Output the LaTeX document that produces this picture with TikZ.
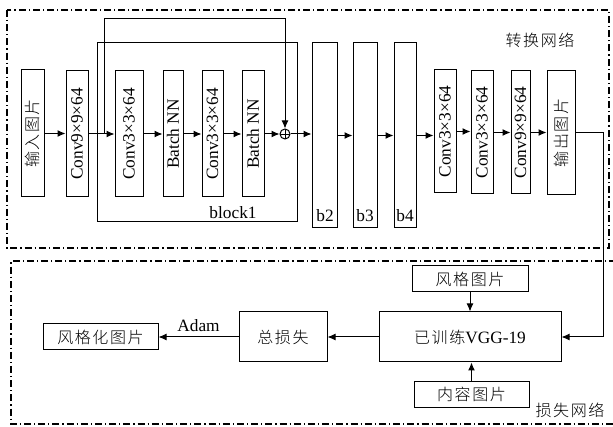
\documentclass[tikz,border=0pt]{standalone}
\usepackage{fontspec}
\setmainfont{Liberation Serif}
\newfontfamily\cjkfont[UprightFont={* Light},LetterSpace=10]{Noto Sans CJK SC}
\usetikzlibrary{arrows.meta}
\newcommand{\zh}[1]{{\cjkfont\fontsize{16}{19}\selectfont #1}}
\begin{document}
\begin{tikzpicture}[x=1pt,y=-1pt,
  box/.style={draw, line width=1pt, inner sep=0pt},
  arr/.style={-{Latex[length=8pt,width=7pt]}, line width=1pt},
  frame/.style={line width=1.1pt, dash pattern=on 7pt off 3pt on 1.2pt off 3pt},
  font=\fontsize{17.3}{20}\selectfont]
\useasboundingbox (0,0) rectangle (613,427);
% frames
\draw[frame] (7,10) rectangle (609,248);
\draw[frame] (616,261) -- (11,261) -- (11,424) -- (616,424);
% transform network
\node[box, minimum width=23, minimum height=127] (in) at (32.5,133.5) {\rotatebox{90}{\zh{输入图片}}};
\node[box, minimum width=22, minimum height=126] (c9) at (77,134) {\rotatebox{90}{Conv9×9×64}};
\node[box, minimum width=200, minimum height=179] (blk) at (197,132.5) {};
\node[box, minimum width=28, minimum height=126] (c3a) at (129,134) {\rotatebox{90}{Conv3×3×64}};
\node[box, minimum width=20, minimum height=126] (bn1) at (173,134) {\rotatebox{90}{Batch NN}};
\node[box, minimum width=21, minimum height=126] (c3b) at (212.5,134) {\rotatebox{90}{Conv3×3×64}};
\node[box, minimum width=22, minimum height=126] (bn2) at (253,134) {\rotatebox{90}{Batch NN}};
\node[draw, circle, line width=1pt, minimum size=10pt, inner sep=0pt,
  path picture={\draw[line width=0.8pt] (path picture bounding box.north) -- (path picture bounding box.south) (path picture bounding box.west) -- (path picture bounding box.east);}] (plus) at (285,134) {};
\node (blabel) at (233,213) {block1};
\node[box, minimum width=25, minimum height=185] (b2) at (324.5,135.5) {};
\node[box, minimum width=24, minimum height=185] (b3) at (365,135.5) {};
\node[box, minimum width=22, minimum height=185] (b4) at (405,135.5) {};
\node (b2l) at (325,216) {b2};
\node (b3l) at (365,216) {b3};
\node (b4l) at (405,216) {b4};
\node[box, minimum width=22, minimum height=123] (c3c) at (445,131.5) {\rotatebox{90}{Conv3×3×64}};
\node[box, minimum width=22, minimum height=123] (c3d) at (482,132.5) {\rotatebox{90}{Conv3×3×64}};
\node[box, minimum width=19, minimum height=123] (c9b) at (520.5,132.5) {\rotatebox{90}{Conv9×9×64}};
\node[box, minimum width=28, minimum height=124] (out) at (561,133) {\rotatebox{90}{\zh{输出图片}}};
\node (tlabel) at (540,40) {\zh{转换网络}};
% arrows top
\draw[arr] (in.east) -- (in.east -| c9.west);
\draw[arr] (c9.east) -- (c9.east -| c3a.west);
\draw[arr] (c3a.east) -- (c3a.east -| bn1.west);
\draw[arr] (bn1.east) -- (bn1.east -| c3b.west);
\draw[arr] (c3b.east) -- (c3b.east -| bn2.west);
\draw[arr] (bn2.east) -- (plus.west);
\draw[arr] (plus.east) -- (plus.east -| b2.west);
\draw[arr] (b2.east) -- (b2.east -| b3.west);
\draw[arr] (b3.east) -- (b3.east -| b4.west);
\draw[arr] (b4.east) -- (b4.east -| c3c.west);
\draw[arr] (c3c.east) -- (c3c.east -| c3d.west);
\draw[arr] (c3d.east) -- (c3d.east -| c9b.west);
\draw[arr] (c9b.east) -- (c9b.east -| out.west);
\coordinate (j) at (104,134);
\coordinate (lt) at (104,19);
\draw[arr] (j) -- (lt) -| (plus.north);
% loss network
\node[box, minimum width=116, minimum height=26] (style) at (470,279) {\zh{风格图片}};
\node[box, minimum width=182, minimum height=50] (vgg) at (470,337) {\zh{已训练}VGG-19};
\node[box, minimum width=115, minimum height=25] (content) at (471.5,394.5) {\zh{内容图片}};
\node[box, minimum width=88, minimum height=50] (loss) at (283,337) {\zh{总损失}};
\node[box, minimum width=115, minimum height=26] (styled) at (100.5,337) {\zh{风格化图片}};
\node (llabel) at (570,410) {\zh{损失网络}};
\coordinate (oc) at (603,0);
\draw[arr] (out.east) -- (out.east -| oc) |- (vgg.east);
\draw[arr] (style.south) -- (style.south |- vgg.north);
\draw[arr] (content.north) -- (content.north |- vgg.south);
\draw[arr] (vgg.west) -- (loss.east);
\draw[arr] (loss.west) -- node[above=1pt] (adam) {Adam} (styled.east);
\end{tikzpicture}
\end{document}
